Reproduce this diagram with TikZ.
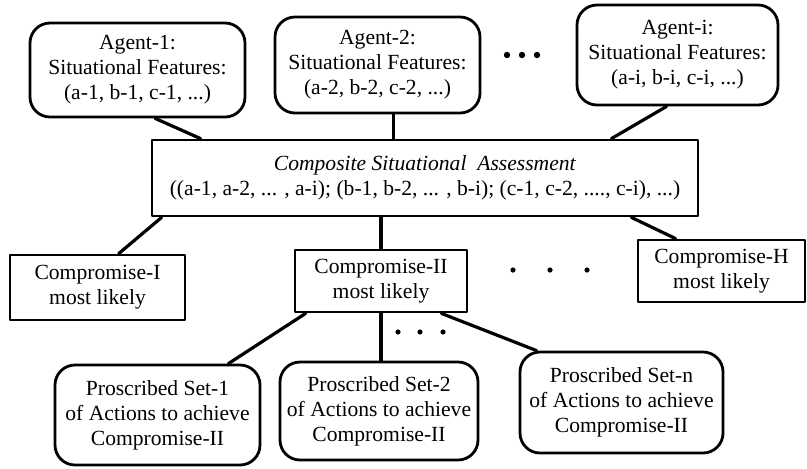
\documentclass[tikz,border=0pt]{standalone}
\usepackage{fontspec}
\setmainfont{Liberation Serif}
\usetikzlibrary{calc}

\begin{document}
\begin{tikzpicture}[x=0.5pt,y=-0.5pt,line cap=round,line join=round,
    every node/.style={inner sep=1pt,font=\fontsize{10.8}{12.5}\selectfont},
    agentbox/.style={draw,line width=1.4pt,rounded corners=10pt,align=center},
    flatbox/.style={draw,line width=1.4pt,align=center},
    link/.style={line width=1.6pt}]
  \useasboundingbox (0,0) rectangle (807,468);
  % agents
  \node[agentbox,minimum width=107.5pt,minimum height=47pt] (a1) at (137.5,70) {Agent-1:\\Situational Features:\\(a-1, b-1, c-1, ...)};
  \node[agentbox,minimum width=102.5pt,minimum height=48pt] (a2) at (377.5,65) {Agent-2:\\Situational Features:\\(a-2, b-2, c-2, ...)};
  \node[agentbox,minimum width=100.5pt,minimum height=50pt] (ai) at (677.5,55) {Agent-i:\\Situational Features:\\(a-i, b-i, c-i, ...)};
  % assessment
  \node[flatbox,minimum width=273pt,minimum height=38pt] (comp) at (425,178) {\textit{Composite Situational\ \ Assessment}\\((a-1, a-2, ... , a-i); (b-1, b-2, ... , b-i); (c-1, c-2, ...., c-i), ...)};
  % compromises
  \node[flatbox,minimum width=87.5pt,minimum height=32.5pt] (c1) at (97.5,287.5) {Compromise-I\\most likely};
  \node[flatbox,minimum width=86pt,minimum height=31pt] (c2) at (381,281) {Compromise-II\\most likely};
  \node[flatbox,minimum width=83.5pt,minimum height=31pt] (ch) at (721.5,271) {Compromise-H\\most likely};
  % action sets
  \node[agentbox,minimum width=102.5pt,minimum height=50pt] (s1) at (157.5,415) {Proscribed Set-1\\of Actions to achieve\\Compromise-II};
  \node[agentbox,minimum width=99pt,minimum height=49pt] (s2) at (379,411) {Proscribed Set-2\\of Actions to achieve\\Compromise-II};
  \node[agentbox,minimum width=101.5pt,minimum height=50.5pt] (sn) at (621.5,402.5) {Proscribed Set-n\\of Actions to achieve\\Compromise-II};
  % links
  \draw[link] (a1.-70) -- ([xshift=25pt]comp.north west);
  \draw[link] (a2.-72) -- (a2.-72 |- comp.north);
  \draw[link] (ai.-102) -- ([xshift=-44pt]comp.north east);
  \draw[link] ([xshift=5.5pt]comp.south west) -- (c1.58);
  \draw[link] (c2.north |- comp.south) -- (c2.north);
  \draw[link] ([xshift=-34pt]comp.south east) -- ([xshift=19.5pt]ch.north west);
  \draw[link] ([xshift=6pt]c2.south west) -- ([xshift=-16.5pt]s1.north east);
  \draw[link] (c2.south) -- (c2.south |- s2.north);
  \draw[link] ([xshift=-13.5pt]c2.south east) -- ([xshift=9pt]sn.north west);
  % dots
  \foreach \d in {507,522,537} \fill (\d,55) circle (1.6pt);
  \foreach \d in {513,550,587} \fill (\d,270) circle (1.3pt);
  \foreach \d in {398,420,443} \fill (\d,332) circle (1.3pt);
\end{tikzpicture}
\end{document}
